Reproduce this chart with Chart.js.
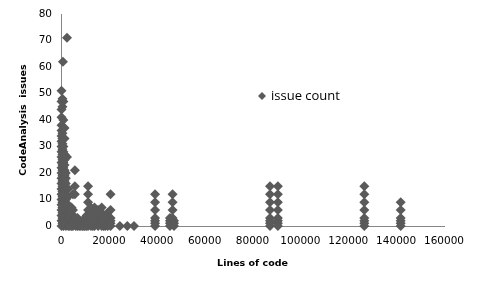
<!DOCTYPE html>
<html>
<head>
<meta charset="utf-8">
<script src="https://cdn.jsdelivr.net/npm/chart.js@4"></script>
<style>
  html, body { margin: 0; padding: 0; background: #fff; }
  #wrap { width: 479px; height: 285px; }
</style>
</head>
<body>
<div id="wrap"><canvas id="chart"></canvas></div>
<script>
// small files, lines of code / issue count
var smallLoc = [
  200,200,200,200,200,200,200,200,200,200,200,200,200,200,200,200,200,200,200,200,200,200,200,200,
  600,600,600,600,600,600,600,600,600,600,600,600,600,600,600,600,600,600,600,600,
  800,
  1000,1000,1000,1000,1000,1000,1000,1000,1000,1000,1000,1000,1000,1000,1000,1000,1000,1000,
  1500,1500,1500,1500,1500,1500,1500,1500,1500,1500,1500,1500,1500,1500,1500,1500,
  2000,2000,2000,2000,2000,2000,2000,2000,2000,2000,2000,
  2500,2500,
  3000,3000,3000,3000,3000,3000,
  3700,3700,3700,3700,
  4400,4400,4400,4400,
  5000,5000,5000,5000,5000,
  5800,5800,5800,
  6200,6200,6200,6900,6900,6900,7600,7600,7600,8300,8300,9000,9000,9600
];
var smallIssues = [
  0,2,4,6,8,10,12,14,16,18,20,22,24,26,28,30,32,34,36,38,41,44,47,51,
  1,3,5,7,9,11,13,15,17,19,21,23,25,27,29,31,33,35,45,48,
  62,
  0,2,4,6,8,10,12,14,16,18,20,22,24,26,28,30,40,47,
  1,3,5,7,9,11,13,15,17,19,21,23,25,27,33,37,
  0,2,4,6,8,10,12,14,16,18,20,
  71,26,
  0,2,4,8,11,14,
  0,1,3,6,
  0,2,4,7,
  0,2,4,6,12,
  21,15,12,
  0,1,3,0,2,3,0,1,2,0,1,0,2,0
];

// medium files
var mediumLoc = [
  10000,10000,10000,10000,
  10700,10700,10700,
  11300,11300,11300,11300,11300,11300,11300,11300,11300,
  12500,12500,12500,12500,12500,
  13300,13300,13300,
  14000,14000,14000,14000,14000,
  14800,14800,14800,
  15500,15500,15500,15500,
  16300,16300,16300,
  17000,17000,17000,17000,17000,
  17800,17800,
  18500,18500,18500,
  19500,19500,19500,
  20700,20700,20700,20700,20700,20700,
  24600,27700,30500
];
var mediumIssues = [
  3,2,1,0,
  4,2,0,
  15,12,9,6,4,3,2,1,0,
  7,5,3,1,0,
  4,2,0,
  7,6,3,2,0,
  5,3,1,
  6,4,2,0,
  5,3,1,
  7,5,3,1,0,
  2,0,
  4,2,0,
  5,1,0,
  12,6,3,2,1,0,
  0,0,0
];

// large files
var largeLoc = [
  39300,39300,39300,39300,39300,39300,39300,
  46600,46600,46600,46600,45500,45500,45500,45500,47200,47200,47200,
  87300,87300,87300,87300,87300,87300,87300,87300,
  90600,90600,90600,90600,90600,90600,90600,90600,
  126700,126700,126700,126700,126700,126700,126700,126700,
  141900,141900,141900,141900,141900,141900
];
var largeIssues = [
  12,9,6,3,2,1,0,
  12,9,6,3,3,2,1,0,2,1,0,
  15,12,9,6,3,2,1,0,
  15,12,9,6,3,2,1,0,
  15,12,9,6,3,2,1,0,
  9,6,3,2,1,0
];

var seriesName = 'issue count';
var xTitle = 'Lines of code';
var yTitle = 'CodeAnalysis  issues';

function toPoints(xs, ys) {
  var pts = [];
  for (var i = 0; i < xs.length; i++) pts.push({ x: xs[i], y: ys[i] });
  return pts;
}

var allPoints = toPoints(smallLoc, smallIssues)
  .concat(toPoints(mediumLoc, mediumIssues))
  .concat(toPoints(largeLoc, largeIssues));

var markColor = '#5a5a5a';
var axisColor = '#868686';
var tickFont = { family: 'DejaVu Sans', size: 10.5 };
var titleFont = { family: 'DejaVu Sans', size: 9.5, weight: 'bold' };

// legend sits inside the plot, like the original
var legendInside = {
  id: 'legendInside',
  afterDraw: function(chart) {
    var ctx = chart.ctx;
    var x = 262, y = 96;
    ctx.save();
    ctx.fillStyle = markColor;
    ctx.beginPath();
    ctx.moveTo(x, y - 4); ctx.lineTo(x + 4, y); ctx.lineTo(x, y + 4); ctx.lineTo(x - 4, y);
    ctx.closePath();
    ctx.fill();
    ctx.fillStyle = '#000';
    ctx.font = '13px "Open Sans"';
    ctx.textBaseline = 'middle';
    ctx.fillText(seriesName, x + 9, y);
    ctx.restore();
  }
};

var ctx = document.getElementById('chart').getContext('2d');
var chart = new Chart(ctx, {
  type: 'scatter',
  data: {
    datasets: [{
      label: seriesName,
      data: allPoints,
      pointStyle: 'rectRot',
      pointRadius: 5,
      backgroundColor: markColor,
      borderColor: markColor,
      borderWidth: 0,
      clip: false
    }]
  },
  options: {
    responsive: true,
    maintainAspectRatio: false,
    animation: false,
    layout: { padding: { top: 14, right: 35, left: 14, bottom: 12 } },
    plugins: {
      legend: { display: false },
      tooltip: { enabled: false }
    },
    scales: {
      x: {
        type: 'linear',
        min: 0, max: 160000,
        ticks: {
          stepSize: 20000, color: '#000', font: tickFont, padding: 4, maxRotation: 0,
          callback: function(v) { return String(v); }
        },
        grid: { display: false, drawTicks: true, tickLength: 5, color: axisColor },
        border: { color: axisColor, width: 1 },
        title: { display: true, text: xTitle, color: '#000', font: titleFont, padding: { top: 8 } },
        afterFit: function(s) { s.height = 47; }
      },
      y: {
        min: 0, max: 80,
        ticks: { stepSize: 10, color: '#000', font: tickFont, padding: 4 },
        grid: { display: false, drawTicks: true, tickLength: 5, color: axisColor },
        border: { color: axisColor, width: 1 },
        title: { display: true, text: yTitle, color: '#000', font: titleFont, padding: { bottom: 6 } },
        afterFit: function(s) { s.width = 47; }
      }
    }
  },
  plugins: [legendInside]
});
</script>
</body>
</html>
